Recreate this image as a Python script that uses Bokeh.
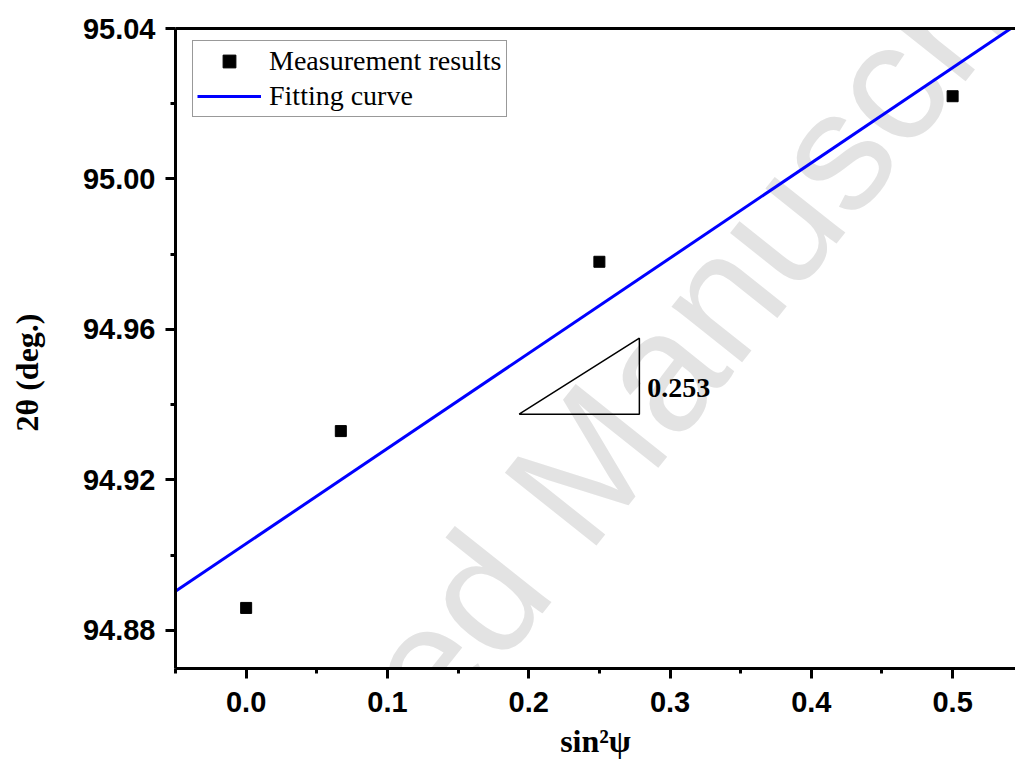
import numpy as np
from bokeh.plotting import figure
from bokeh.models import (Range1d, FixedTicker, NumeralTickFormatter, LinearAxis,
                          Label, Legend, LegendItem)
from bokeh.embed import file_html
from bokeh.resources import INLINE

# ---- data ----
sin2psi = [0.0, 0.067, 0.25, 0.5]
two_theta = [94.886, 94.933, 94.978, 95.022]
x_ticks = [0.0, 0.1, 0.2, 0.3, 0.4, 0.5]
y_ticks = [94.88, 94.92, 94.96, 95.00, 95.04]
slope_label = "0.253"
tri_x = [0.1932, 0.2783, 0.2783, 0.1932]
tri_y = [94.9375, 94.9375, 94.9577, 94.9375]

SERIF = "Liberation Serif"
SANS = "Liberation Sans"

p = figure(frame_width=840, frame_height=640, output_backend="svg", toolbar_location=None,
           x_range=Range1d(-0.05, 0.5445), y_range=Range1d(94.8699, 95.04),
           min_border_left=175, min_border_right=0, min_border_top=28,
           min_border_bottom=97, x_axis_location="below")
p.outline_line_color = None
p.xgrid.visible = False
p.ygrid.visible = False
p.background_fill_color = "white"
p.border_fill_color = "white"

# watermark
p.add_layout(Label(x=0.2257, y=94.9173, text="Accepted Manuscript", angle=0.899,
                   text_align="center", text_baseline="middle",
                   text_font=SANS, text_font_size="170px", text_color="#e3e3e3",
                   level="underlay"))

x_minor = [(a + b) / 2 for a, b in zip([-0.1] + x_ticks, x_ticks + [0.6])]
y_minor = [(a + b) / 2 for a, b in zip(y_ticks[:-1], y_ticks[1:])] + [y_ticks[0] - 0.02]

def style_axis(ax):
    ax.axis_line_width = 3
    ax.major_tick_line_width = 3
    ax.minor_tick_line_width = 3
    ax.major_tick_in = 0
    ax.major_tick_out = 10
    ax.minor_tick_in = 0
    ax.minor_tick_out = 5
    ax.major_label_text_font = SANS
    ax.major_label_text_font_style = "bold"
    ax.major_label_text_font_size = "29px"
    ax.major_label_text_color = "black"
    ax.axis_label_text_font = SERIF
    ax.axis_label_text_font_style = "bold"
    ax.axis_label_text_font_size = "32px"
    ax.axis_label_text_color = "black"

xa = p.xaxis[0]
xa.ticker = FixedTicker(ticks=x_ticks, minor_ticks=x_minor)
xa.formatter = NumeralTickFormatter(format="0.0")
style_axis(xa)
xa.major_label_standoff = 13
xa.axis_label = "sin²ψ"
xa.axis_label_standoff = 8

ya = p.yaxis[0]
ya.ticker = FixedTicker(ticks=y_ticks, minor_ticks=y_minor)
ya.formatter = NumeralTickFormatter(format="0.00")
style_axis(ya)
ya.major_label_standoff = 10
ya.axis_label = "2θ (deg.)" + "\u00a0" * 6
ya.axis_label_standoff = 35

top = LinearAxis(ticker=FixedTicker(ticks=[]), major_label_text_font_size="0px",
                 axis_line_width=3, major_tick_line_color=None, minor_tick_line_color=None)
p.add_layout(top, "above")

# fit line
coef = np.polyfit(sin2psi, two_theta, 1)
fx = [-0.05, 0.6]
fy = [coef[0] * v + coef[1] for v in fx]
fit_r = p.line(fx, fy, line_color="#0000ff", line_width=3)

# data points
pts = p.scatter(sin2psi, two_theta, marker="square", size=11, color="black")

# slope triangle
p.line(tri_x, tri_y, line_color="black", line_width=1.5)
p.add_layout(Label(x=0.2838, y=94.9445, text=slope_label, text_font=SERIF,
                   text_font_style="bold", text_font_size="28px", text_color="black",
                   text_baseline="alphabetic"))

legend = Legend(items=[LegendItem(label="Measurement results", renderers=[pts]),
                       LegendItem(label="Fitting curve", renderers=[fit_r])],
                location=(17, 551), orientation="vertical")
legend.label_text_font = SERIF
legend.label_text_font_size = "28px"
legend.label_text_color = "black"
legend.glyph_width = 64
legend.glyph_height = 32
legend.label_height = 32
legend.label_standoff = 8
legend.spacing = 3
legend.padding = 4
legend.margin = 0
legend.border_line_color = "#333333"
legend.border_line_width = 1
legend.background_fill_alpha = 1
p.add_layout(legend)

open("out.html", "w").write(file_html(p, INLINE))
